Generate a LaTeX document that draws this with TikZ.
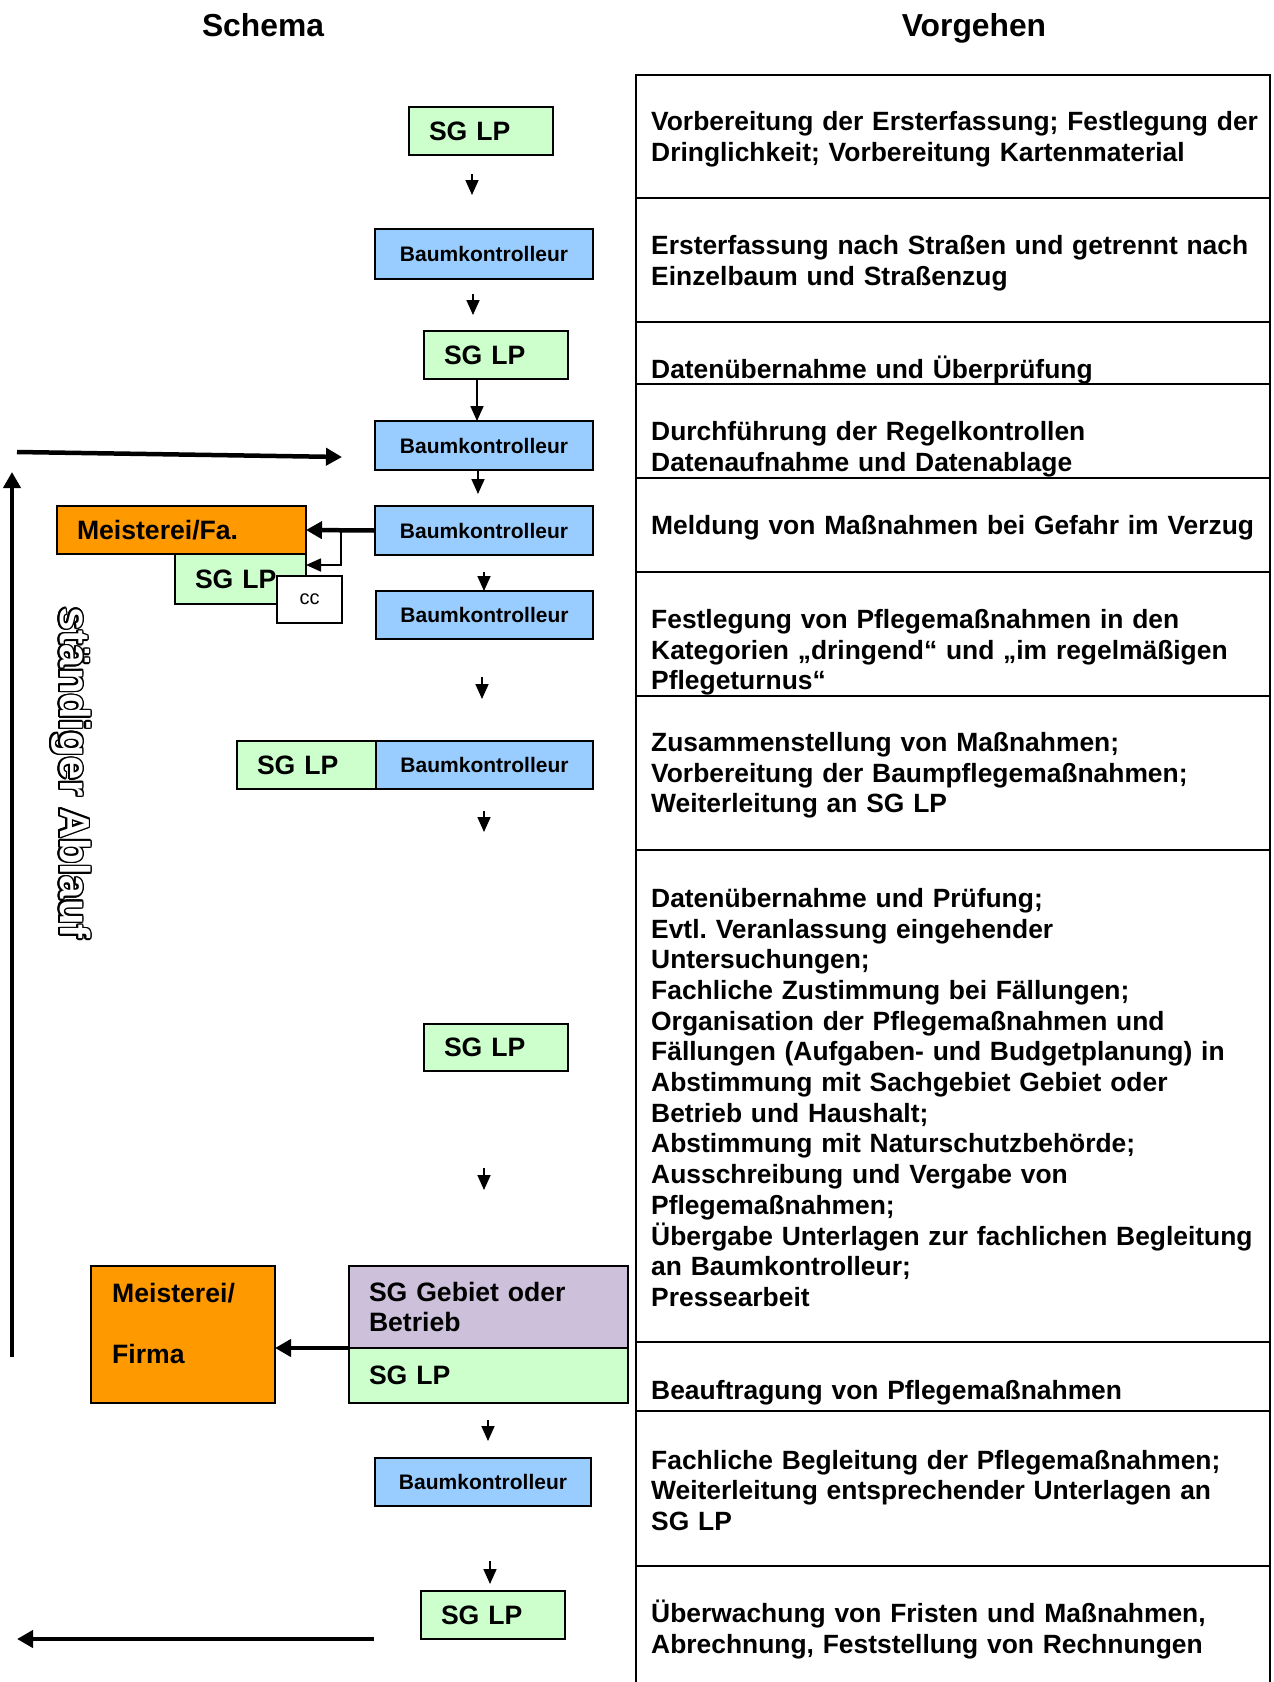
\documentclass[tikz,border=0pt]{standalone}
\usepackage{fontspec}
\setmainfont{Liberation Sans}
\usepackage{contour}
\contourlength{1.6pt}
\usetikzlibrary{arrows.meta}
\definecolor{sggreen}{HTML}{CCFFCC}
\definecolor{kblue}{HTML}{99CCFF}
\definecolor{morange}{HTML}{FF9900}
\definecolor{gpurple}{HTML}{CCC0DA}
\frenchspacing
\newcommand\myTitleFont{\fontsize{31.8pt}{36pt}\selectfont\bfseries}
\newcommand\myTabFont{\fontsize{26.4pt}{30.7pt}\selectfont\bfseries}
\newcommand\mySgFont{\fontsize{26.6pt}{30.7pt}\selectfont\bfseries}
\newcommand\myKFont{\fontsize{21pt}{24pt}\selectfont\bfseries}
\newcommand\myCcFont{\fontsize{20pt}{22pt}\selectfont}
\newcommand\myRotFont{\fontsize{42pt}{48pt}\selectfont\bfseries}
\begin{document}
\begin{tikzpicture}[x=1pt,y=-1pt,
  box/.style={draw=black, line width=2pt, inner sep=0pt, outer sep=0pt},
  lbox/.style={box, inner xsep=20pt, align=left, font=\mySgFont},
  kbox/.style={box, fill=kblue, align=center, font=\myKFont},
  tline/.style={line width=2pt, black},
  ttext/.style={anchor=west, inner sep=0pt, align=left, text width=615pt, font=\myTabFont},
  titletext/.style={anchor=base, inner sep=0pt, font=\myTitleFont},
  sarr/.style={line width=1.7pt, -{Triangle[width=13pt,length=15pt]}},
  tarr/.style={line width=4.5pt, -{Triangle[width=17pt,length=16pt]}}
]
\fill[white] (0,0) rectangle (1274,1682);
\useasboundingbox (0,0) rectangle (1274,1682);

% titles
\node[titletext] (t1) at (263,36.5) {Schema};
\node[titletext] (t2) at (974,36.5) {Vorgehen};

% table
\draw[tline] (636,1682) -- (636,75) -- (1270,75) -- (1270,1682);
\foreach \yy in {198,322,384,478,572,696,850,1342,1411,1566}
  \draw[tline] (636,\yy) -- (1270,\yy);

\node[ttext] (r1) at (651,139) {Vorbereitung der Ersterfassung; Festlegung der\\Dringlichkeit; Vorbereitung Kartenmaterial};
\node[ttext] (r2) at (651,263) {Ersterfassung nach Straßen und getrennt nach\\Einzelbaum und Straßenzug};
\node[ttext] (r3) at (651,370.5) {Datenübernahme und Überprüfung};
\node[ttext] (r4) at (651,449.5) {Durchführung der Regelkontrollen\\Datenaufnahme und Datenablage};
\node[ttext] (r5) at (651,528) {Meldung von Maßnahmen bei Gefahr im Verzug};
\node[ttext] (r6) at (651,652.5) {Festlegung von Pflegemaßnahmen in den\\Kategorien „dringend“ und „im regelmäßigen\\Pflegeturnus“};
\node[ttext] (r7) at (651,775.5) {Zusammenstellung von Maßnahmen;\\Vorbereitung der Baumpflegemaßnahmen;\\Weiterleitung an SG LP};
\node[ttext] (r8) at (651,1097.5) {Datenübernahme und Prüfung;\\Evtl. Veranlassung eingehender\\Untersuchungen;\\Fachliche Zustimmung bei Fällungen;\\Organisation der Pflegemaßnahmen und\\Fällungen (Aufgaben- und Budgetplanung) in\\Abstimmung mit Sachgebiet Gebiet oder\\Betrieb und Haushalt;\\Abstimmung mit Naturschutzbehörde;\\Ausschreibung und Vergabe von\\Pflegemaßnahmen;\\Übergabe Unterlagen zur fachlichen Begleitung\\an Baumkontrolleur;\\Pressearbeit};
\node[ttext] (r9) at (651,1393) {Beauftragung von Pflegemaßnahmen};
\node[ttext] (r10) at (651,1490.5) {Fachliche Begleitung der Pflegemaßnahmen;\\Weiterleitung entsprechender Unterlagen an\\SG LP};
\node[ttext] (r11) at (651,1629.5) {Überwachung von Fristen und Maßnahmen,\\Abrechnung, Feststellung von Rechnungen};

% schema boxes
\node[lbox, fill=sggreen, text width=104pt, minimum height=48pt] (s1) at (481,131) {SG LP};
\node[kbox, minimum width=218pt, minimum height=50pt] (k1) at (484,254) {Baumkontrolleur};
\node[lbox, fill=sggreen, text width=104pt, minimum height=48pt] (s2) at (496,355) {SG LP};
\node[kbox, minimum width=218pt, minimum height=49pt] (k2) at (484,445.5) {Baumkontrolleur};
\node[kbox, minimum width=218pt, minimum height=49pt] (k3) at (484,530.5) {Baumkontrolleur};
\node[lbox, fill=morange, text width=209pt, minimum height=48pt] (m1) at (181.5,530) {Meisterei/Fa.};
\node[lbox, fill=sggreen, text width=91pt, minimum height=50pt] (s3) at (240.5,579) {SG LP};
\node[box, fill=white, minimum width=65pt, minimum height=47pt, font=\myCcFont] (cc) at (309.5,599.5) {cc};
\node[kbox, minimum width=217pt, minimum height=48pt] (k4) at (484.5,615) {Baumkontrolleur};
\node[lbox, fill=sggreen, text width=99pt, minimum height=48pt] (s4) at (306.5,765) {SG LP};
\node[kbox, minimum width=217pt, minimum height=48pt] (k5) at (484.5,765) {Baumkontrolleur};
\node[lbox, fill=sggreen, text width=104pt, minimum height=47pt] (s5) at (496,1047.5) {SG LP};
\node[lbox, fill=gpurple, text width=239pt, minimum height=82pt] (pg) at (488.5,1307) {SG Gebiet oder\\Betrieb};
\node[lbox, fill=sggreen, text width=239pt, minimum height=55pt] (s6) at (488.5,1375.5) {SG LP};
\node[box, fill=morange, minimum width=184pt, minimum height=137pt] (mf) at (183,1334.5) {};
\node[anchor=west, inner sep=0pt, align=left, font=\mySgFont] (mft) at (112,1323.5) {Meisterei/\\[31pt]Firma};
\node[kbox, minimum width=216pt, minimum height=48pt] (k6) at (483,1482) {Baumkontrolleur};
\node[lbox, fill=sggreen, text width=104pt, minimum height=48pt] (s7) at (493,1615) {SG LP};

% rotated outline text
\node[rotate=-90, inner sep=0pt, font=\myRotFont] (sa) at (70,773) {{\color{white}\contour{black}{ständiger Ablauf}}};

% helper coordinates
\coordinate (x477) at (477,0);
\coordinate (x478) at (478,0);
\coordinate (x484) at (484,0);
\coordinate (a1s) at (472,174);  \coordinate (a1e) at (472,195);
\coordinate (a2s) at (473,294);  \coordinate (a2e) at (473,315);
\coordinate (a4e) at (478,494);
\coordinate (a5s) at (484,572);
\coordinate (a6s) at (482,677);  \coordinate (a6e) at (482,699);
\coordinate (a7s) at (484,811);  \coordinate (a7e) at (484,832);
\coordinate (a8s) at (484,1168); \coordinate (a8e) at (484,1190);
\coordinate (a9s) at (488,1420); \coordinate (a9e) at (488,1441);
\coordinate (a10s) at (490,1561); \coordinate (a10e) at (490,1584);
\coordinate (c1) at (341,530);
\coordinate (c2) at (341,565);
\coordinate (la1) at (17,452);   \coordinate (la2) at (342,457);
\coordinate (lv1) at (12,1357);  \coordinate (lv2) at (12,472);
\coordinate (bl1) at (374,1639); \coordinate (bl2) at (17,1639);

% thin arrows
\draw[sarr] (a1s) -- (a1e);
\draw[sarr] (a2s) -- (a2e);
\draw[sarr] (s2.south -| x477) -- (k2.north -| x477);
\draw[sarr] (k2.south -| x478) -- (a4e);
\draw[sarr] (a5s) -- (k4.north -| x484);
\draw[sarr] (a6s) -- (a6e);
\draw[sarr] (a7s) -- (a7e);
\draw[sarr] (a8s) -- (a8e);
\draw[sarr] (a9s) -- (a9e);
\draw[sarr] (a10s) -- (a10e);
\draw[sarr] (c1) -- (c2) -- (c2 -| s3.east);

% thick arrows
\draw[tarr] (k3.west) -- (m1.east);
\draw[tarr] (pg.south west) -- (mf.east |- pg.south west);
\draw[tarr] (la1) -- (la2);
\draw[tarr] (lv1) -- (lv2);
\draw[tarr] (bl1) -- (bl2);
\end{tikzpicture}
\end{document}
